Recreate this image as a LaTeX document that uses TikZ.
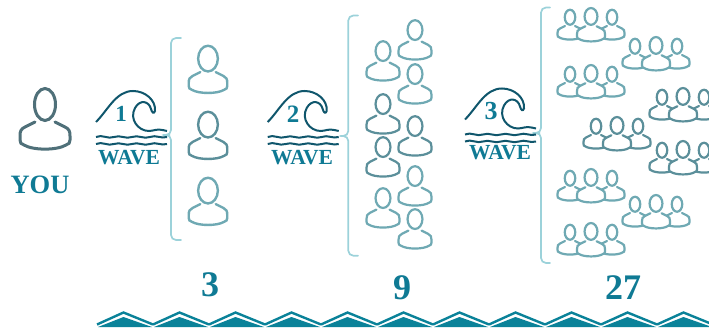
\documentclass[tikz,border=0pt]{standalone}
\usepackage{fontspec}
\setmainfont{Liberation Serif}
\definecolor{txt}{HTML}{0F7A94}
\definecolor{wavec}{HTML}{0F566C}
\definecolor{bracec}{HTML}{9CD2DA}
\definecolor{you}{HTML}{4F7079}
\definecolor{pa}{HTML}{6FA9B3}
\definecolor{pb}{HTML}{5B8F9A}
\definecolor{zig}{HTML}{0A8299}
\tikzset{
  pics/person/.style 2 args={code={
    \path[fill=white] (0,-13.5) ellipse (#1 and #2);
    \path[fill=white] (-10,4) -- (-20,9) .. controls (-24,11) and (-25,13) .. (-25,18) -- (-25,22) .. controls (-25,25) and (-24,26) .. (-21,27) .. controls (-12,32.5) and (12,32.5) .. (21,27) .. controls (24,26) and (25,25) .. (25,22) -- (25,18) .. controls (25,13) and (24,11) .. (20,9) -- (10,4) -- cycle;
    \draw[pic actions] (0,-13.5) ellipse (#1 and #2);
    \draw[pic actions,line cap=round] (-10,4) -- (-20,9) .. controls (-24,11) and (-25,13) .. (-25,18) -- (-25,22) .. controls (-25,25) and (-24,26) .. (-21,27) .. controls (-12,32.5) and (12,32.5) .. (21,27) .. controls (24,26) and (25,25) .. (25,22) -- (25,18) .. controls (25,13) and (24,11) .. (20,9) -- (10,4);
  }},
  crowd/.pic={
    \pic[scale=.5,draw=#1,line width=2.2pt] at (-21,1) {person={10.5}{15}};
    \pic[scale=.5,draw=#1,line width=2.2pt] at (21,1) {person={10.5}{15}};
    \pic[scale=.56,draw=#1,line width=2.2pt] at (0,1) {person={11.5}{15}};
  },
  seawave/.pic={
    \draw[wavec,line width=2pt] (0,0) .. controls (12,-12) and (20,-31) .. (37,-31) .. controls (49,-31) and (60,-22) .. (59,-11) .. controls (58,-8) and (56,-9) .. (55,-13) .. controls (53,-21) and (44,-23) .. (39,-14) .. controls (33,-3) and (42,9) .. (53,9) .. controls (58,9) and (60,6) .. (71,9);
    \draw[wavec,line width=2pt] (0,15) .. controls (6,12) and (12,17.5) .. (18,15) .. controls (24,12.5) and (30,17.5) .. (36,15) .. controls (42,12.5) and (48,17.5) .. (54,15) .. controls (60,12.5) and (65,17) .. (71,15);
    \draw[wavec,line width=2pt] (0,22) .. controls (6,19) and (12,24.5) .. (18,22) .. controls (24,19.5) and (30,24.5) .. (36,22) .. controls (42,19.5) and (48,24.5) .. (54,22) .. controls (60,19.5) and (65,24) .. (71,22);
  },
  lab/.style={text=txt,inner sep=0pt},
  brc/.style={draw=bracec,line width=1.7pt,rounded corners=5pt,line cap=round}
}
\begin{document}
\begin{tikzpicture}[x=1pt,y=-1pt]
\useasboundingbox (0,0) rectangle (709,331);
% you
\pic[draw=you,line width=3pt] at (45,118) {person={10.5}{16}};
\node[lab,font=\bfseries\fontsize{26.5}{26.5}\selectfont] (you) at (40,185) {YOU};
% braces
\foreach \x/\t/\b/\m/\e/\tip in {171/38/240/135/181/165, 348.3/15.5/255.7/136/358/340, 541/7.5/263/133/550/535}{
  \draw[brc] (\e,\t) -- (\x,\t) -- (\x,\m) -- (\tip,\m) -- (\x,\m) -- (\x,\b) -- (\e,\b);
}
% waves
\pic at (96,122) {seawave};
\pic at (267.7,122) {seawave};
\pic at (465,119.5) {seawave};
\node[lab,font=\bfseries\fontsize{23}{23}\selectfont] (n1) at (121,114) {1};
\node[lab,font=\bfseries\fontsize{25}{25}\selectfont] (n2) at (293,114) {2};
\node[lab,font=\bfseries\fontsize{26}{26}\selectfont] (n3) at (491,111) {3};
\node[lab,font=\bfseries\fontsize{21.5}{21.5}\selectfont] (w1) at (129,158) {WAVE};
\node[lab,font=\bfseries\fontsize{21.5}{21.5}\selectfont] (w2) at (302,158) {WAVE};
\node[lab,font=\bfseries\fontsize{21.5}{21.5}\selectfont] (w3) at (500,153) {WAVE};
% first wave people
\pic[scale=.77,draw=pa,line width=2.4pt] at (208,69) {person={12.8}{16.7}};
\pic[scale=.77,draw=pb,line width=2.4pt] at (208,135) {person={12.8}{16.7}};
\pic[scale=.77,draw=pa,line width=2.4pt] at (208,201) {person={12.8}{16.7}};
% second wave people
\foreach \x/\y/\c in {383/60/pa,415/39/pa,415/83/pa,383/113/pb,415/135/pb,383/156/pb,415/185/pa,383/207/pa,415/228/pa}{
  \pic[scale=.66,draw=\c,line width=2.2pt] at (\x,\y) {person={11.3}{15}};
}
% third wave people
\foreach \x/\y/\c in {591/23/pa,656/52/pa,591/80/pa,683/103/pb,617/132/pb,683/156/pb,591/184/pa,656/210/pa,591/238/pa}{
  \pic at (\x,\y) {crowd=\c};
}
% totals
\node[lab,font=\bfseries\fontsize{36}{36}\selectfont] (t1) at (210,285) {3};
\node[lab,font=\bfseries\fontsize{36}{36}\selectfont] (t2) at (402,288) {9};
\node[lab,font=\bfseries\fontsize{36}{36}\selectfont] (t3) at (623,288) {27};
% zigzag
\begin{scope}
\clip (95,300) rectangle (709,331);
\foreach \k in {0,...,10}{
  \pgfmathsetmacro{\xa}{97+56*\k}
  \pgfmathsetmacro{\xb}{\xa+26.5}
  \pgfmathsetmacro{\xc}{\xa+56}
  \fill[zig] (\xa+1,327) -- (\xb,317) -- (\xc-1,327) -- cycle;
  \draw[zig,line width=2.4pt,line join=miter] (\xa,324.5) -- (\xb,312.5) -- (\xc,324.5);
}
\end{scope}
\end{tikzpicture}
\end{document}
